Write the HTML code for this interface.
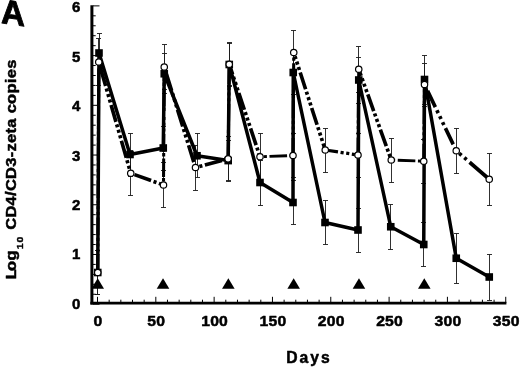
<!DOCTYPE html>
<html><head><meta charset="utf-8"><title>Figure A</title>
<style>html,body{margin:0;padding:0;background:#fff}svg{display:block}text{font-family:"Liberation Sans",Arial,Helvetica,sans-serif;font-weight:bold;fill:#000;stroke:#000;stroke-width:0.5px;stroke-linejoin:round}</style></head><body>
<svg width="520" height="368" viewBox="0 0 520 368">
<rect width="520" height="368" fill="#fff"/>
<g stroke="#1a1a1a" stroke-width="0.9" fill="none">
<path d="M97.5 250.5V294.5M95.0 250.5h5M95.0 294.5h5"/>
<path d="M99.5 33.5V73.5M97.0 33.5h5M97.0 73.5h5"/>
<path d="M130.5 133.5V176.5M128.0 133.5h5M128.0 176.5h5"/>
<path d="M163.5 126.5V170.5M161.0 126.5h5M161.0 170.5h5"/>
<path d="M164.5 53.5V93.5M162.0 53.5h5M162.0 93.5h5"/>
<path d="M197.5 133.5V177.5M195.0 133.5h5M195.0 177.5h5"/>
<path d="M228.5 140.5V180.5M226.0 140.5h5M226.0 180.5h5"/>
<path d="M229.5 43.5V85.5M227.0 43.5h5M227.0 85.5h5"/>
<path d="M260.5 160.5V205.5M258.0 160.5h5M258.0 205.5h5"/>
<path d="M293.5 180.5V224.5M291.0 180.5h5M291.0 224.5h5"/>
<path d="M293.5 50.5V94.5M291.0 50.5h5M291.0 94.5h5"/>
<path d="M325.5 200.5V244.5M323.0 200.5h5M323.0 244.5h5"/>
<path d="M358.5 208.5V252.5M356.0 208.5h5M356.0 252.5h5"/>
<path d="M358.5 57.5V103.5M356.0 57.5h5M356.0 103.5h5"/>
<path d="M390.5 204.5V249.5M388.0 204.5h5M388.0 249.5h5"/>
<path d="M423.5 222.5V266.5M421.0 222.5h5M421.0 266.5h5"/>
<path d="M424.5 55.5V104.5M422.0 55.5h5M422.0 104.5h5"/>
<path d="M456.5 233.5V283.5M454.0 233.5h5M454.0 283.5h5"/>
<path d="M489.5 254.5V300.5M487.0 254.5h5M487.0 300.5h5"/>
<path d="M97.5 250.5V294.5M95.0 250.5h5M95.0 294.5h5"/>
<path d="M98.5 38.5V85.5M96.0 38.5h5M96.0 85.5h5"/>
<path d="M130.5 150.5V195.5M128.0 150.5h5M128.0 195.5h5"/>
<path d="M163.5 162.5V207.5M161.0 162.5h5M161.0 207.5h5"/>
<path d="M164.5 44.5V89.5M162.0 44.5h5M162.0 89.5h5"/>
<path d="M195.5 145.5V190.5M193.0 145.5h5M193.0 190.5h5"/>
<path d="M228.5 136.5V181.5M226.0 136.5h5M226.0 181.5h5"/>
<path d="M229.5 42.5V86.5M227.0 42.5h5M227.0 86.5h5"/>
<path d="M260.5 133.5V180.5M258.0 133.5h5M258.0 180.5h5"/>
<path d="M293.5 133.5V177.5M291.0 133.5h5M291.0 177.5h5"/>
<path d="M293.5 30.5V74.5M291.0 30.5h5M291.0 74.5h5"/>
<path d="M325.5 128.5V172.5M323.0 128.5h5M323.0 172.5h5"/>
<path d="M358.5 133.5V177.5M356.0 133.5h5M356.0 177.5h5"/>
<path d="M358.5 46.5V92.5M356.0 46.5h5M356.0 92.5h5"/>
<path d="M391.5 138.5V182.5M389.0 138.5h5M389.0 182.5h5"/>
<path d="M423.5 139.5V183.5M421.0 139.5h5M421.0 183.5h5"/>
<path d="M424.5 63.5V106.5M422.0 63.5h5M422.0 106.5h5"/>
<path d="M456.5 128.5V173.5M454.0 128.5h5M454.0 173.5h5"/>
<path d="M489.5 153.5V205.5M487.0 153.5h5M487.0 205.5h5"/>
</g>
<g stroke="#000" fill="none">
<path d="M91.9 5.2V304.5" stroke-width="3"/>
<path d="M90.4 303.2H506.4" stroke-width="2.7"/>
<path d="M93 304.20H99.5M93 294.26H95.7M93 284.31H95.7M93 274.37H95.7M93 264.42H95.7M93 254.48H99.5M93 244.54H95.7M93 234.59H95.7M93 224.65H95.7M93 214.70H95.7M93 204.76H99.5M93 194.82H95.7M93 184.87H95.7M93 174.93H95.7M93 164.98H95.7M93 155.04H99.5M93 145.10H95.7M93 135.15H95.7M93 125.21H95.7M93 115.26H95.7M93 105.32H99.5M93 95.38H95.7M93 85.43H95.7M93 75.49H95.7M93 65.54H95.7M93 55.60H99.5M93 45.66H95.7M93 35.71H95.7M93 25.77H95.7M93 15.82H95.7M93 5.88H99.5" stroke-width="1"/>
<path d="M97.50 303V296.8M109.16 303V299.7M120.83 303V299.7M132.49 303V299.7M144.16 303V299.7M155.82 303V296.8M167.48 303V299.7M179.15 303V299.7M190.81 303V299.7M202.48 303V299.7M214.14 303V296.8M225.80 303V299.7M237.47 303V299.7M249.13 303V299.7M260.80 303V299.7M272.46 303V296.8M284.12 303V299.7M295.79 303V299.7M307.45 303V299.7M319.12 303V299.7M330.78 303V296.8M342.44 303V299.7M354.11 303V299.7M365.77 303V299.7M377.44 303V299.7M389.10 303V296.8M400.76 303V299.7M412.43 303V299.7M424.09 303V299.7M435.76 303V299.7M447.42 303V296.8M459.08 303V299.7M470.75 303V299.7M482.41 303V299.7M494.08 303V299.7M505.74 303V296.8" stroke-width="1"/>
</g>
<g fill="none" stroke="#000" stroke-width="3.1">
<path d="M97.75 272.50L98.75 62.00" stroke-width="3.05" stroke-dasharray="17.6 2.6 3.1 2.6 3.1 2.6 3.1 2.6" stroke-dashoffset="0"/>
<path d="M98.75 62.00L130.75 173.25" stroke-width="3.65" stroke-dasharray="25 2.6 3.1 2.6 3.1 2.6 3.1 2.6 17.6 2.6 3.1 2.6 3.1 2.6 3.1 2.6 17.6 2.6 3.1 2.6 3.1 2.6 3.1 2.6" stroke-dashoffset="0"/>
<path d="M130.75 173.25L163.50 185.00" stroke-width="3.65" stroke-dasharray="17.6 2.6 3.1 2.6 3.1 2.6 3.1 2.6" stroke-dashoffset="33.3"/>
<path d="M163.50 185.00L164.25 67.00" stroke-width="3.05" stroke-dasharray="0 3.5 3.5 1 18.6 1.9 3.5 1.3 17.6 2.6 3.1 2.6 3.1 2.6 3.1 2.6" stroke-dashoffset="0"/>
<path d="M164.25 67.00L195.50 167.50" stroke-width="3.65" stroke-dasharray="17.6 2.6 3.1 2.6 3.1 2.6 3.1 2.6" stroke-dashoffset="29.9"/>
<path d="M195.50 167.50L228.10 158.80" stroke-width="3.65" stroke-dasharray="17.6 2.6 3.1 2.6 3.1 2.6 3.1 2.6" stroke-dashoffset="27.6"/>
<path d="M228.10 158.80L229.25 64.25" stroke-width="3.05" stroke-dasharray="17.6 2.6 3.1 2.6 3.1 2.6 3.1 2.6" stroke-dashoffset="0"/>
<path d="M229.25 64.25L260.00 156.75" stroke-width="3.65" stroke-dasharray="17.6 2.6 3.1 2.6 3.1 2.6 3.1 2.6" stroke-dashoffset="7.0"/>
<path d="M260.00 156.75L293.00 155.50" stroke-width="2.84" stroke-dasharray="17.6 2.6 3.1 2.6 3.1 2.6 3.1 2.6" stroke-dashoffset="27.8"/>
<path d="M293.00 155.50L293.75 52.50" stroke-width="3.05" stroke-dasharray="17.6 2.6 3.1 2.6 3.1 2.6 3.1 2.6" stroke-dashoffset="0"/>
<path d="M293.75 52.50L325.25 150.00" stroke-width="3.65" stroke-dasharray="17.6 2.6 3.1 2.6 3.1 2.6 3.1 2.6" stroke-dashoffset="16.3"/>
<path d="M325.25 150.00L358.00 155.00" stroke-width="3.26" stroke-dasharray="17.6 2.6 3.1 2.6 3.1 2.6 3.1 2.6" stroke-dashoffset="4.7"/>
<path d="M358.00 155.00L358.75 69.25" stroke-width="3.05" stroke-dasharray="17.6 2.6 3.1 2.6 3.1 2.6 3.1 2.6" stroke-dashoffset="0"/>
<path d="M358.75 69.25L391.25 160.00" stroke-width="3.65" stroke-dasharray="17.6 2.6 3.1 2.6 3.1 2.6 3.1 2.6" stroke-dashoffset="10.5"/>
<path d="M391.25 160.00L423.75 161.25" stroke-width="2.84" stroke-dasharray="17.6 2.6 3.1 2.6 3.1 2.6 3.1 2.6" stroke-dashoffset="30.8"/>
<path d="M423.75 161.25L424.50 84.50" stroke-width="3.05" stroke-dasharray="17.6 2.6 3.1 2.6 3.1 2.6 3.1 2.6" stroke-dashoffset="0"/>
<path d="M424.50 84.50L456.25 150.75" stroke-width="3.65" stroke-dasharray="18 3.5 3.1 3.5 3.1 3.5 3.1 3.5" stroke-dashoffset="34.2"/>
<path d="M456.25 150.75L489.25 179.25" stroke-width="3.65" stroke-dasharray="0 4 3 3.7 3 3.9 26 10" stroke-dashoffset="0"/>
</g>
<polyline points="97.75,272.50 99.00,53.00 130.00,154.50 163.25,148.00 164.25,73.75 197.00,155.75 228.20,160.60 229.25,64.50 260.00,182.50 293.00,202.50 293.25,72.50 325.00,222.50 358.00,230.00 358.75,80.00 390.75,226.75 423.75,244.50 424.50,79.50 456.25,258.25 489.25,277.00" fill="none" stroke="#000" stroke-width="3.5" stroke-linejoin="round"/>
<rect x="93.95" y="268.70" width="7.6" height="7.6" fill="#000"/>
<rect x="95.20" y="49.20" width="7.6" height="7.6" fill="#000"/>
<rect x="126.20" y="150.70" width="7.6" height="7.6" fill="#000"/>
<rect x="159.45" y="144.20" width="7.6" height="7.6" fill="#000"/>
<rect x="160.45" y="69.95" width="7.6" height="7.6" fill="#000"/>
<rect x="193.20" y="151.95" width="7.6" height="7.6" fill="#000"/>
<rect x="224.40" y="156.80" width="7.6" height="7.6" fill="#000"/>
<rect x="225.45" y="60.70" width="7.6" height="7.6" fill="#000"/>
<rect x="256.20" y="178.70" width="7.6" height="7.6" fill="#000"/>
<rect x="289.20" y="198.70" width="7.6" height="7.6" fill="#000"/>
<rect x="289.45" y="68.70" width="7.6" height="7.6" fill="#000"/>
<rect x="321.20" y="218.70" width="7.6" height="7.6" fill="#000"/>
<rect x="354.20" y="226.20" width="7.6" height="7.6" fill="#000"/>
<rect x="354.95" y="76.20" width="7.6" height="7.6" fill="#000"/>
<rect x="386.95" y="222.95" width="7.6" height="7.6" fill="#000"/>
<rect x="419.95" y="240.70" width="7.6" height="7.6" fill="#000"/>
<rect x="420.70" y="75.70" width="7.6" height="7.6" fill="#000"/>
<rect x="452.45" y="254.45" width="7.6" height="7.6" fill="#000"/>
<rect x="485.45" y="273.20" width="7.6" height="7.6" fill="#000"/>
<circle cx="97.75" cy="272.50" r="3.2" fill="#fff" stroke="#000" stroke-width="1.2"/>
<circle cx="98.75" cy="62.00" r="3.2" fill="#fff" stroke="#000" stroke-width="1.2"/>
<circle cx="130.75" cy="173.25" r="3.2" fill="#fff" stroke="#000" stroke-width="1.2"/>
<circle cx="163.50" cy="185.00" r="3.2" fill="#fff" stroke="#000" stroke-width="1.2"/>
<circle cx="164.25" cy="67.00" r="3.2" fill="#fff" stroke="#000" stroke-width="1.2"/>
<circle cx="195.50" cy="167.50" r="3.2" fill="#fff" stroke="#000" stroke-width="1.2"/>
<circle cx="228.10" cy="158.80" r="3.2" fill="#fff" stroke="#000" stroke-width="1.2"/>
<circle cx="229.25" cy="64.25" r="3.2" fill="#fff" stroke="#000" stroke-width="1.2"/>
<circle cx="260.00" cy="156.75" r="3.2" fill="#fff" stroke="#000" stroke-width="1.2"/>
<circle cx="293.00" cy="155.50" r="3.2" fill="#fff" stroke="#000" stroke-width="1.2"/>
<circle cx="293.75" cy="52.50" r="3.2" fill="#fff" stroke="#000" stroke-width="1.2"/>
<circle cx="325.25" cy="150.00" r="3.2" fill="#fff" stroke="#000" stroke-width="1.2"/>
<circle cx="358.00" cy="155.00" r="3.2" fill="#fff" stroke="#000" stroke-width="1.2"/>
<circle cx="358.75" cy="69.25" r="3.2" fill="#fff" stroke="#000" stroke-width="1.2"/>
<circle cx="391.25" cy="160.00" r="3.2" fill="#fff" stroke="#000" stroke-width="1.2"/>
<circle cx="423.75" cy="161.25" r="3.2" fill="#fff" stroke="#000" stroke-width="1.2"/>
<circle cx="424.50" cy="84.50" r="3.2" fill="#fff" stroke="#000" stroke-width="1.2"/>
<circle cx="456.25" cy="150.75" r="3.2" fill="#fff" stroke="#000" stroke-width="1.2"/>
<circle cx="489.25" cy="179.25" r="3.2" fill="#fff" stroke="#000" stroke-width="1.2"/>
<path d="M97.70 278.3L104.00 288.7H91.40Z" fill="#000"/>
<path d="M163.02 278.3L169.32 288.7H156.72Z" fill="#000"/>
<path d="M228.34 278.3L234.64 288.7H222.04Z" fill="#000"/>
<path d="M293.66 278.3L299.96 288.7H287.36Z" fill="#000"/>
<path d="M358.97 278.3L365.27 288.7H352.67Z" fill="#000"/>
<path d="M424.29 278.3L430.59 288.7H417.99Z" fill="#000"/>
<text x="0" y="0" font-size="34.5" transform="translate(1.1,23.1) skewY(8) scale(0.96,1)" style="stroke-width:0.9px">A</text>
<text transform="translate(80.3,308.75) scale(1.0,1)" text-anchor="end" font-size="15">0</text>
<text transform="translate(80.3,259.36) scale(1.0,1)" text-anchor="end" font-size="15">1</text>
<text transform="translate(80.3,209.97) scale(1.0,1)" text-anchor="end" font-size="15">2</text>
<text transform="translate(80.3,160.58) scale(1.0,1)" text-anchor="end" font-size="15">3</text>
<text transform="translate(80.3,111.19) scale(1.0,1)" text-anchor="end" font-size="15">4</text>
<text transform="translate(80.3,61.80) scale(1.0,1)" text-anchor="end" font-size="15">5</text>
<text transform="translate(80.3,12.41) scale(1.0,1)" text-anchor="end" font-size="15">6</text>
<text transform="translate(98.00,326.1) scale(1.05,1)" text-anchor="middle" font-size="15" letter-spacing="0.2">0</text>
<text transform="translate(156.32,326.1) scale(1.05,1)" text-anchor="middle" font-size="15" letter-spacing="0.2">50</text>
<text transform="translate(214.64,326.1) scale(1.05,1)" text-anchor="middle" font-size="15" letter-spacing="0.2">100</text>
<text transform="translate(272.96,326.1) scale(1.05,1)" text-anchor="middle" font-size="15" letter-spacing="0.2">150</text>
<text transform="translate(331.28,326.1) scale(1.05,1)" text-anchor="middle" font-size="15" letter-spacing="0.2">200</text>
<text transform="translate(389.60,326.1) scale(1.05,1)" text-anchor="middle" font-size="15" letter-spacing="0.2">250</text>
<text transform="translate(447.92,326.1) scale(1.05,1)" text-anchor="middle" font-size="15" letter-spacing="0.2">300</text>
<text transform="translate(506.24,326.1) scale(1.05,1)" text-anchor="middle" font-size="15" letter-spacing="0.2">350</text>
<text transform="translate(286.2,362.6) scale(0.97,1)" font-size="16.2" letter-spacing="2.1">Days</text>
<text transform="translate(16.3,279.3) rotate(-90) scale(1.08,1)" font-size="15.3" letter-spacing="0.3">L<tspan x="7.69">og</tspan><tspan x="27.78" dy="6.9" font-size="9.6" letter-spacing="0.9" style="stroke-width:0.4px">10</tspan> <tspan x="45.83" dy="-6.9" letter-spacing="0.26">CD4/CD3-zeta copies</tspan></text>
</svg></body></html>
